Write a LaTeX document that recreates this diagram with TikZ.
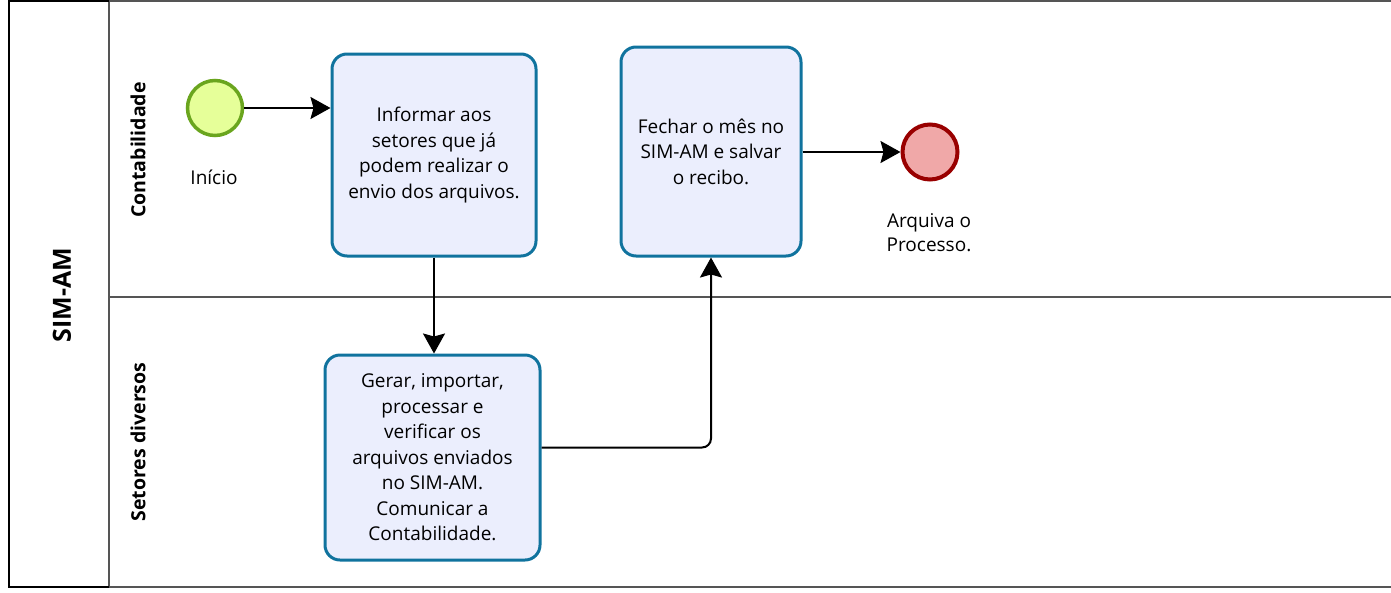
\documentclass[tikz,border=0pt]{standalone}
\usepackage{fontspec}
\setmainfont{Open Sans}
\usetikzlibrary{arrows.meta}
\definecolor{taskfill}{HTML}{EBEEFD}
\definecolor{taskline}{HTML}{10739E}
\definecolor{startfill}{HTML}{E6FF99}
\definecolor{startline}{HTML}{6AA51E}
\definecolor{endfill}{HTML}{F0A8A8}
\definecolor{endline}{HTML}{990000}
\definecolor{laneline}{HTML}{555555}
\tikzset{
  task/.style={draw=taskline, fill=taskfill, line width=3pt, rounded corners=15pt,
    align=center, inner sep=0pt, font=\fontsize{19}{25.5}\selectfont},
  startev/.style={circle, draw=startline, fill=startfill, line width=3.5pt, minimum size=55pt, inner sep=0pt},
  endev/.style={circle, draw=endline, fill=endfill, line width=4pt, minimum size=55pt, inner sep=0pt},
  lbl/.style={align=center, font=\fontsize{19}{24}\selectfont},
  lanelbl/.style={rotate=90, font=\fontsize{19.5}{22}\selectfont\bfseries},
  arr/.style={-{Stealth[length=20pt,width=22pt,inset=3pt]}, line width=2pt, black},
}
\begin{document}
\begin{tikzpicture}[x=1pt,y=-1pt]
\useasboundingbox (0,0) rectangle (1391,592);
% pool and lanes
\draw[laneline, line width=2pt] (109,1) -- (1392,1);
\draw[laneline, line width=2pt] (109,297) -- (1392,297);
\draw[laneline, line width=2pt] (109,587) -- (1392,587);
\draw[laneline, line width=2pt] (109,1) -- (109,587);
\draw[black, line width=1.6pt] (109,1) -- (9,1) -- (9,587) -- (109,587);
\node[rotate=90, font=\fontsize{25}{28}\selectfont\bfseries] (pool) at (62,295) {SIM-AM};
\node[lanelbl] (l1) at (138,150) {Contabilidade};
\node[lanelbl] (l2) at (138,442) {Setores diversos};
% events
\node[startev] (start) at (215,108) {};
\node[lbl] (startlbl) at (214,177) {Início};
\node[endev] (end) at (930,152) {};
\node[lbl] (endlbl) at (929,233) {Arquiva o\\ Processo.};
% tasks
\node[task, minimum width=204pt, minimum height=202pt] (t1) at (434,155)
  {Informar aos\\ setores que já\\ podem realizar o\\ envio dos arquivos.};
\node[task, minimum width=180pt, minimum height=209pt] (t2) at (711,151.5)
  {Fechar o mês no\\ SIM-AM e salvar\\ o recibo.};
\node[task, minimum width=215pt, minimum height=205pt] (t3) at (432.5,457.5)
  {Gerar, importar,\\ processar e\\ verificar os\\ arquivos enviados\\ no SIM-AM.\\ Comunicar a\\ Contabilidade.};
% flows
\draw[arr] (start) -- (t1.west |- start);
\draw[arr] (t1.south) -- (t3.north -| t1.south);
\draw[arr, rounded corners=9pt] ([yshift=10pt]t3.east) -| (t2.south);
\draw[arr] (t2.east |- end) -- (end);
\end{tikzpicture}
\end{document}
